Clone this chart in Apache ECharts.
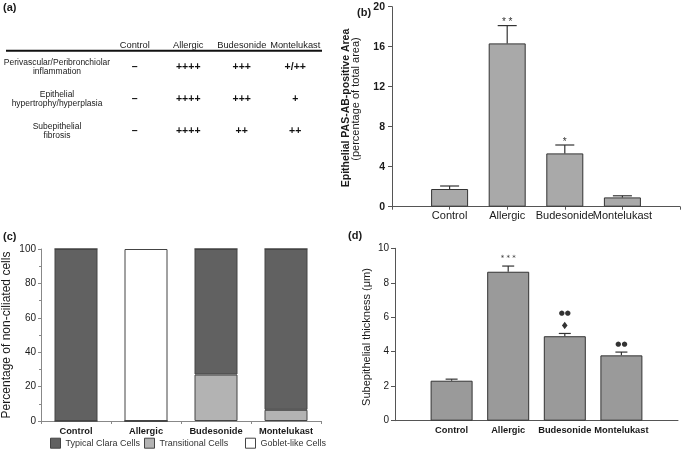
<!DOCTYPE html>
<html>
<head>
<meta charset="utf-8">
<script src="https://cdn.jsdelivr.net/npm/echarts@6/dist/echarts.min.js"></script>
<style>html,body{margin:0;padding:0;background:#fff}#c{width:683px;height:457px}</style>
</head>
<body>
<div id="c"></div>
<script>
// ---- Panel (a) table ----
const tableCols = ['Control', 'Allergic', 'Budesonide', 'Montelukast'];
const tableRows = ['Perivascular/Peribronchiolar\ninflammation', 'Epithelial\nhypertrophy/hyperplasia', 'Subepithelial\nfibrosis'];
const scoreInflammation = ['–', '++++', '+++', '+/++'];
const scoreEpithelial = ['–', '++++', '+++', '+'];
const scoreFibrosis = ['–', '++++', '++', '++'];

// ---- Panels (b)-(d) ----
const groups = ['Control', 'Allergic', 'Budesonide', 'Montelukast'];
const pasMean = [1.77, 16.33, 5.33, 0.93];
const pasErr = [0.3, 1.78, 0.84, 0.16];
const pasSig = ['', '* *', '*', ''];

const claraTypical = [100, 0, 73, 93.5];
const claraTransitional = [0, 0, 27, 6.5];
const claraGoblet = [0, 100, 0, 0];

const thickMean = [2.32, 8.64, 4.9, 3.79];
const thickErr = [0.09, 0.33, 0.16, 0.19];
const thickSig = ['', '* * *', '●●\n♦', '●●'];

const FONT = 'Liberation Sans, Arial, sans-serif';
const TXT = '#1a1a1a';

const scoreRows = [scoreInflammation, scoreEpithelial, scoreFibrosis];
const tableData = [];
scoreRows.forEach((row, r) => row.forEach((s, c) => tableData.push([c, r, s])));

const padCats = [''].concat(groups, ['']);

function errSeries(xi, yi, means, errs, sigs, capW, sigFont, dy, lh) {
  return {
    type: 'custom', xAxisIndex: xi, yAxisIndex: yi, z: 5,
    data: means.map((m, i) => [i + 1, m, m + errs[i], i]),
    renderItem: function (params, api) {
      const x = api.value(0), lo = api.value(1), hi = api.value(2), idx = api.value(3);
      const p1 = api.coord([x, lo]);
      const p2 = api.coord([x, hi]);
      const hw = capW / 2;
      const st = { stroke: '#333', lineWidth: 1.2 };
      const children = [
        { type: 'line', shape: { x1: p1[0], y1: p1[1], x2: p2[0], y2: p2[1] }, style: st },
        { type: 'line', shape: { x1: p2[0] - hw, y1: p2[1], x2: p2[0] + hw, y2: p2[1] }, style: st }
      ];
      const s = sigs[idx];
      if (s) {
        children.push({
          type: 'text', x: p2[0], y: p2[1] + dy,
          style: { text: s.replace('♦', '{dia|♦}'), fill: '#333', font: sigFont, align: 'center', verticalAlign: 'bottom',
                   textAlign: 'center', textVerticalAlign: 'bottom', lineHeight: lh,
                   rich: { dia: { fontSize: 10, fontFamily: 'DejaVu Sans', fill: '#333', lineHeight: lh } } }
        });
      }
      return { type: 'group', children: children };
    }
  };
}

const option = {
  animation: false,
  backgroundColor: '#fff',
  textStyle: { fontFamily: FONT, color: TXT },
  grid: [
    { left: 108, right: 361, top: 50.7, height: 96 },          // (a) table
    { left: 392, right: 0.5, top: 6.7, bottom: 250.3 },        // (b)
    { left: 41, right: 362, top: 249, bottom: 36 },            // (c)
    { left: 395, right: 5, top: 248.3, bottom: 36.3 }          // (d)
  ],
  legend: [
    { data: ['Typical Clara Cells'], left: 50, top: 437.7 },
    { data: ['Transitional Cells'], left: 144, top: 437.7 },
    { data: ['Goblet-like Cells'], left: 245, top: 437.7 }
  ].map(l => Object.assign(l, {
    padding: 0, itemWidth: 10, itemHeight: 10, icon: 'rect',
    itemStyle: { borderColor: '#444', borderWidth: 1 },
    textStyle: { fontSize: 9, color: '#333', fontFamily: FONT }
  })),
  xAxis: [
    { gridIndex: 0, type: 'category', data: tableCols, position: 'top',
      axisLine: { show: false }, axisTick: { show: false },
      axisLabel: { margin: 1, fontSize: 9.3, color: TXT, interval: 0 } },
    { gridIndex: 1, type: 'category', data: padCats, boundaryGap: false,
      axisLine: { lineStyle: { color: '#555', width: 1 } },
      axisTick: { show: true, length: 3, lineStyle: { color: '#555' }, interval: 0 },
      axisLabel: { margin: 4, fontSize: 11, color: TXT, interval: 0 } },
    { gridIndex: 2, type: 'category', data: groups,
      axisLine: { lineStyle: { color: '#888', width: 1 } },
      axisTick: { show: true, length: 3, lineStyle: { color: '#888' } },
      axisLabel: { margin: 6, fontSize: 9.3, fontWeight: 'bold', color: TXT, interval: 0 } },
    { gridIndex: 3, type: 'category', data: padCats, boundaryGap: false,
      axisLine: { lineStyle: { color: '#555', width: 1 } },
      axisTick: { show: false },
      axisLabel: { margin: 5, fontSize: 9.3, fontWeight: 'bold', color: TXT, interval: 0 } }
  ],
  yAxis: [
    { gridIndex: 0, type: 'category', data: tableRows, inverse: true,
      axisLine: { show: false }, axisTick: { show: false }, splitLine: { show: false },
      axisLabel: { align: 'center', margin: 51, fontSize: 8.5, lineHeight: 9, color: TXT } },
    { gridIndex: 1, type: 'value', min: 0, max: 20, interval: 4,
      axisLine: { show: true, lineStyle: { color: '#555' } },
      axisTick: { show: true, length: 4, lineStyle: { color: '#555' } },
      splitLine: { show: false },
      axisLabel: { margin: 7, fontSize: 10.5, fontWeight: 'bold', color: TXT } },
    { gridIndex: 2, type: 'value', min: 0, max: 100, interval: 20,
      axisLine: { show: true, lineStyle: { color: '#888' } },
      axisTick: { show: true, length: 3, lineStyle: { color: '#888' } },
      minorTick: { show: true, splitNumber: 2, length: 2, lineStyle: { color: '#888' } },
      splitLine: { show: false },
      axisLabel: { margin: 5, fontSize: 10, color: TXT } },
    { gridIndex: 3, type: 'value', min: 0, max: 10, interval: 2,
      axisLine: { show: true, lineStyle: { color: '#555' } },
      axisTick: { show: true, length: 4, lineStyle: { color: '#555' } },
      splitLine: { show: false },
      axisLabel: { margin: 6, fontSize: 10, color: TXT } }
  ],
  series: [
    // (a) table cells
    { type: 'custom', xAxisIndex: 0, yAxisIndex: 0, data: tableData,
      renderItem: function (params, api) {
        const p = api.coord([api.value(0), api.value(1)]);
        const t = tableData[params.dataIndex][2];
        return { type: 'text', x: p[0], y: p[1],
          style: { text: t, fill: '#111', font: 'bold 10.5px ' + FONT,
                   align: 'center', verticalAlign: 'middle', textAlign: 'center', textVerticalAlign: 'middle' } };
      } },
    // (b)
    { type: 'bar', xAxisIndex: 1, yAxisIndex: 1, barWidth: 37,
      data: pasMean.map((v, i) => [i + 1, v]),
      itemStyle: { color: '#a9a9a9', borderColor: '#333', borderWidth: 1 } },
    errSeries(1, 1, pasMean, pasErr, pasSig, 19, '10px ' + FONT, 3, 12),
    // (c)
    { name: 'Transitional Cells', type: 'bar', stack: 'c', xAxisIndex: 2, yAxisIndex: 2, barWidth: 43,
      data: claraTransitional, itemStyle: { color: '#b3b3b3', borderColor: '#444', borderWidth: 1 } },
    { name: 'Typical Clara Cells', type: 'bar', stack: 'c', xAxisIndex: 2, yAxisIndex: 2, barWidth: 43,
      data: claraTypical, itemStyle: { color: '#616161', borderColor: '#444', borderWidth: 1 } },
    { name: 'Goblet-like Cells', type: 'bar', stack: 'c', xAxisIndex: 2, yAxisIndex: 2, barWidth: 43,
      data: claraGoblet, itemStyle: { color: '#ffffff', borderColor: '#444', borderWidth: 1 } },
    // (d)
    { type: 'bar', xAxisIndex: 3, yAxisIndex: 3, barWidth: 42,
      data: thickMean.map((v, i) => [i + 1, v]),
      itemStyle: { color: '#9a9a9a', borderColor: '#333', borderWidth: 1 } },
    errSeries(3, 3, thickMean, thickErr, thickSig, 12, '7px DejaVu Sans, ' + FONT, -1, 13)
  ],
  graphic: [
    { type: 'line', shape: { x1: 6, y1: 50.7, x2: 322, y2: 50.7 }, style: { stroke: '#111', lineWidth: 2 } },
    { type: 'text', x: 3, y: 8, style: { text: '(a)', font: 'bold 11px ' + FONT, fill: TXT, verticalAlign: 'middle', textVerticalAlign: 'middle' } },
    { type: 'text', x: 357, y: 13, style: { text: '(b)', font: 'bold 11px ' + FONT, fill: TXT, verticalAlign: 'middle', textVerticalAlign: 'middle' } },
    { type: 'text', x: 3, y: 237, style: { text: '(c)', font: 'bold 11px ' + FONT, fill: TXT, verticalAlign: 'middle', textVerticalAlign: 'middle' } },
    { type: 'text', x: 348, y: 236, style: { text: '(d)', font: 'bold 11px ' + FONT, fill: TXT, verticalAlign: 'middle', textVerticalAlign: 'middle' } },
    { type: 'text', x: 346, y: 108, rotation: Math.PI / 2,
      style: { text: 'Epithelial PAS-AB-positive Area', font: 'bold 10.5px ' + FONT, fill: TXT,
               align: 'center', verticalAlign: 'middle', textAlign: 'center', textVerticalAlign: 'middle' } },
    { type: 'text', x: 355.5, y: 99, rotation: Math.PI / 2,
      style: { text: '(percentage of total area)', font: '11px ' + FONT, fill: TXT,
               align: 'center', verticalAlign: 'middle', textAlign: 'center', textVerticalAlign: 'middle' } },
    { type: 'text', x: 7, y: 335, rotation: Math.PI / 2,
      style: { text: 'Percentage of non-ciliated cells', font: '12px ' + FONT, fill: TXT,
               align: 'center', verticalAlign: 'middle', textAlign: 'center', textVerticalAlign: 'middle' } },
    { type: 'text', x: 366.7, y: 337, rotation: Math.PI / 2,
      style: { text: 'Subepithelial thickness (μm)', font: '11px ' + FONT, fill: TXT,
               align: 'center', verticalAlign: 'middle', textAlign: 'center', textVerticalAlign: 'middle' } }
  ]
};

const chart = echarts.init(document.getElementById('c'), null, { renderer: 'canvas' });
chart.setOption(option);
</script>
</body>
</html>
